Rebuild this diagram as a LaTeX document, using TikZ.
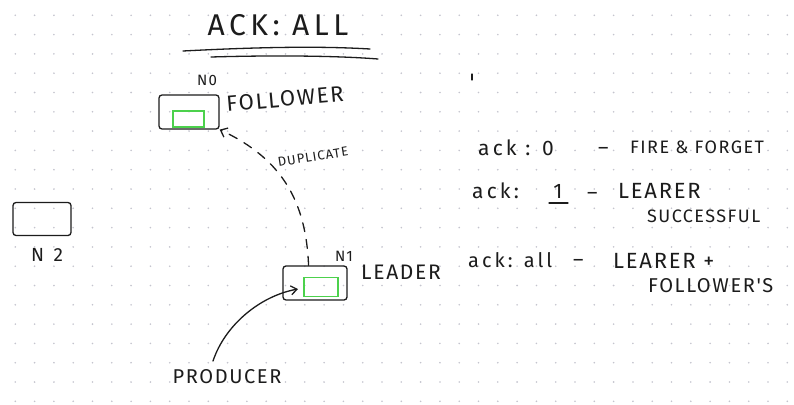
\documentclass[tikz,border=0pt]{standalone}
\usepackage{fontspec}
\setmainfont{Fira Sans}
\newfontfamily\hand[LetterSpace=8]{Fira Sans}
\newfontfamily\handwide[LetterSpace=15]{Fira Sans}
\usetikzlibrary{arrows.meta,positioning}
\definecolor{ink}{HTML}{1C1C1C}
\definecolor{marker}{HTML}{4CD14C}
\definecolor{griddot}{HTML}{C4C4CE}

\begin{document}
\begin{tikzpicture}[x=1pt,y=-1pt,
    pen/.style={draw=ink,line width=1.3pt,line cap=round,line join=round},
    nodebox/.style={pen,rounded corners=3pt,minimum width=60pt,minimum height=34pt,inner sep=0pt},
    part/.style={draw=marker,line width=1.2pt,minimum width=31pt,minimum height=16pt,inner sep=0pt},
    word/.style={text=ink,inner sep=0pt,font=\hand\fontsize{#1pt}{#1pt}\selectfont},
    wideword/.style={text=ink,inner sep=0pt,font=\handwide\fontsize{#1pt}{#1pt}\selectfont},
    dupline/.style={pen,dash pattern=on 9pt off 8pt,-{Straight Barb[length=6pt,width=10pt]}},
    sendline/.style={pen,-{Straight Barb[length=6pt,width=9pt]}}]
    \useasboundingbox (0,0) rectangle (794,404);
    \fill[white] (0,0) rectangle (794,404);

    % dotted paper
    \foreach \i in {0,...,40}
      \foreach \j in {0,...,20}
        \fill[griddot] (15.3+19.3*\i,15.3+19.3*\j) circle (0.9);

    % Title
    \node[wideword=30] (title) at (278,25) {ACK: ALL};
    \draw[pen] (183,51) .. controls (260,47) and (320,46) .. (370,49);
    \draw[pen] (211,57) .. controls (280,55) and (340,56) .. (378,59);

    % Follower
    \node[nodebox] (n0) at (189,112) {};
    \node[part] (p0) at (188.5,119) {};
    \node[word=15] (n0lbl) at (207,80) {N0};
    \node[word=22,rotate=5] (follower) at (285,99) {FOLLOWER};

    % Leader
    \node[nodebox,minimum width=64pt] (n1) at (315,283) {};
    \node[part,minimum width=34pt,minimum height=19pt] (p1) at (321,287) {};
    \node[word=15] (n1lbl) at (344,256) {N1};
    \node[word=21] (leader) at (401,272) {LEADER};

    % Spare broker
    \node[nodebox,minimum width=58pt,minimum height=33pt] (n2) at (42,219) {};
    \node[word=19] (n2lbl) at (47,255) {N\,\,\,2};

    % Replication
    \draw[dupline] (n1.110) .. controls (306,205) and (285,160) .. (n0.south east);
    \node[word=13,rotate=9] (dup) at (313,157) {DUPLICATE};

    % Producer
    \node[word=20] (producer) at (227,377) {PRODUCER};
    \coordinate (pstart) at (213,361);
    \coordinate (pin) at (298,289);
    \draw[sendline] (pstart) .. controls (225,325) and (260,296) .. (pin);

    % stray tick
    \draw[pen] (472,74) -- (472,80);

    % ack settings
    \node[wideword=21,anchor=base west] (ack0) at (478,155) {ack : 0};
    \node[word=20,anchor=base west] (dash0) at (598,154) {–};
    \node[word=18,anchor=base west] (fire) at (630,153) {FIRE \& FORGET};

    \node[wideword=21,anchor=base west] (ack1) at (472,198) {ack:};
    \node[word=21,anchor=base] (one) at (558,198) {1};
    \draw[pen] (549,203) -- (568,203);
    \node[word=20,anchor=base west] (dash1) at (587,199) {–};
    \node[word=22,anchor=base west] (lead1) at (618,198) {LEARER};
    \node[word=18,anchor=base west] (succ) at (647,222) {SUCCESSFUL};

    \node[wideword=20,anchor=base west] (ackall) at (468,267) {ack: all};
    \node[word=20,anchor=base west] (dash2) at (573,266) {–};
    \node[word=22,anchor=base west] (lead2) at (613,268) {LEARER +};
    \node[word=20,anchor=base west] (fols) at (648,292) {FOLLOWER'S};
\end{tikzpicture}
\end{document}
